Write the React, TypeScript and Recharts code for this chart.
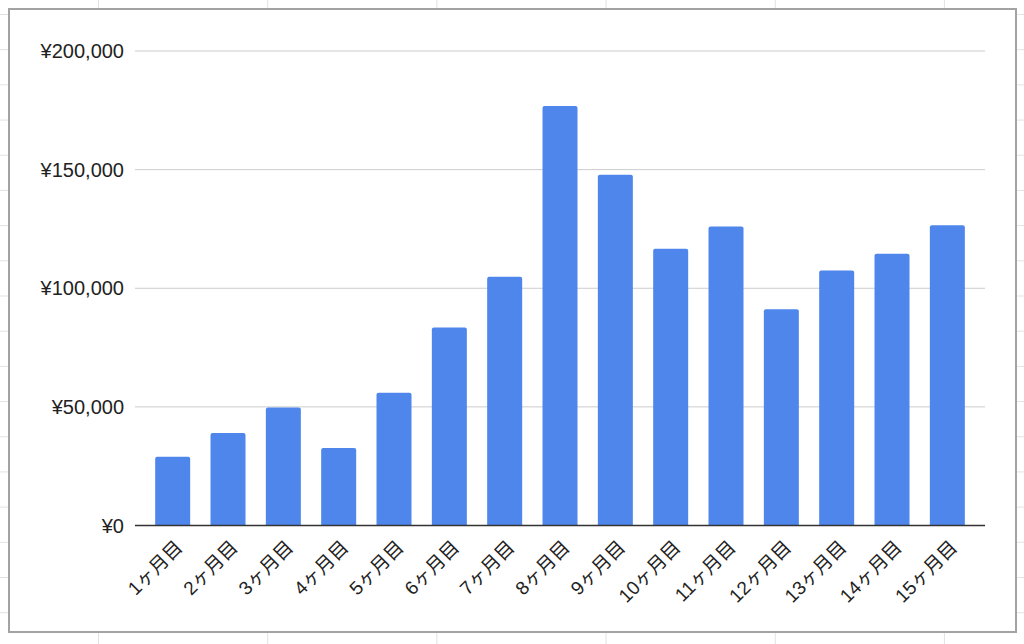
import React from "react";
import { BarChart, Bar, XAxis, YAxis, CartesianGrid } from "recharts";

const months = ["1ヶ月目", "2ヶ月目", "3ヶ月目", "4ヶ月目", "5ヶ月目", "6ヶ月目", "7ヶ月目", "8ヶ月目", "9ヶ月目", "10ヶ月目", "11ヶ月目", "12ヶ月目", "13ヶ月目", "14ヶ月目", "15ヶ月目"];
const amounts = [29000, 39000, 49700, 32700, 56000, 83500, 104800, 176800, 147800, 116600, 126000, 91200, 107500, 114500, 126600];
const yTicks = [0, 50000, 100000, 150000, 200000];

const data = months.map((m, i) => ({ month: m, value: amounts[i] }));

const FONT = "'Liberation Sans', Arial, 'Noto Sans CJK JP', sans-serif";

const fmtYen = (v: number) => "¥" + v.toLocaleString("en-US");

const XTick = (props: any) => {
  const { x, y, payload } = props;
  const ax = x + 11;
  const ay = y + 23;
  return (
    <text
      x={ax}
      y={ay}
      textAnchor="end"
      fontSize={19}
      fontFamily={FONT}
      fill="#222"
      transform={`rotate(-45, ${ax}, ${ay})`}
    >
      {payload.value}
    </text>
  );
};

export default function App() {
  return (
    <div
      style={{
        position: "fixed",
        left: 0,
        top: 0,
        width: 1024,
        height: 644,
        backgroundColor: "#fff",
        backgroundImage:
          "linear-gradient(to right, #e2e2e2 1px, transparent 1px), linear-gradient(to bottom, #e2e2e2 1px, transparent 1px)",
        backgroundSize: "169.2px 35.2px",
        backgroundPosition: "98px 14px",
        overflow: "hidden",
      }}
    >
      <div
        style={{
          position: "absolute",
          left: 8,
          top: 8,
          width: 1009,
          height: 625,
          boxSizing: "border-box",
          border: "2px solid #a3a3a3",
          background: "#fff",
        }}
      />
      <div style={{ position: "absolute", left: 0, top: 0 }}>
        <BarChart
          width={1024}
          height={644}
          data={data}
          margin={{ top: 51, right: 39, bottom: 0, left: 0 }}
          barCategoryGap="18.4%"
        >
          <CartesianGrid vertical={false} stroke="#cccccc" strokeWidth={1} />
          <XAxis
            dataKey="month"
            height={118.5}
            padding={{ left: 10, right: 10 }}
            tickLine={false}
            tickSize={0}
            tickMargin={0}
            interval={0}
            axisLine={{ stroke: "#333", strokeWidth: 1.5 }}
            tick={<XTick />}
          />
          <YAxis
            width={135}
            domain={[0, 200000]}
            ticks={yTicks}
            tickFormatter={fmtYen}
            axisLine={false}
            tickLine={false}
            tickSize={0}
            tickMargin={11}
            tick={{ fontSize: 20, fill: "#222", fontFamily: FONT }}
          />
          <Bar dataKey="value" fill="#4f86ec" radius={[2, 2, 0, 0]} isAnimationActive={false} />
        </BarChart>
      </div>
    </div>
  );
}
